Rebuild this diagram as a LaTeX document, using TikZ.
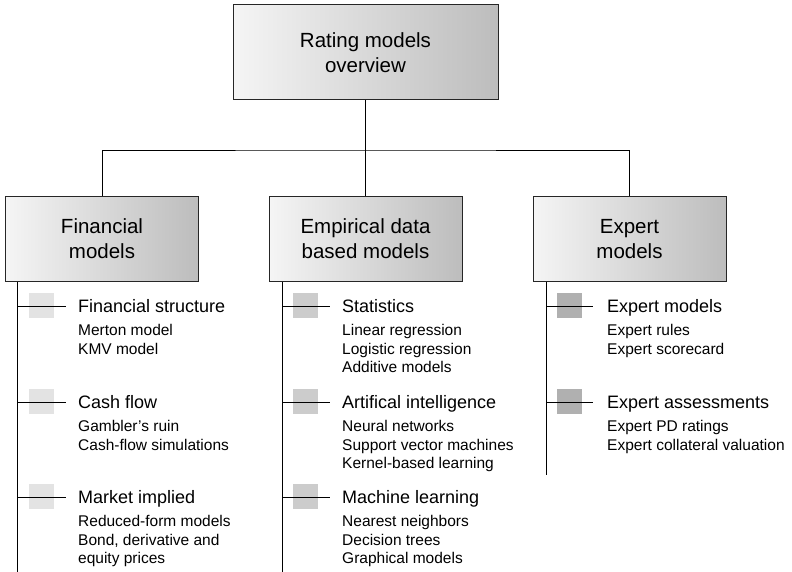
\documentclass[tikz,border=0pt]{standalone}
\usepackage{fontspec}
\setmainfont{Liberation Sans}
\usetikzlibrary{positioning}
\begin{document}
\begin{tikzpicture}[x=1pt, y=-1pt,
        box/.style={rectangle, draw=black!85, line width=1pt, left color=gray!8, right color=gray!52, minimum width=193pt, minimum height=84pt, align=center, font=\fontsize{20.5}{25}\selectfont},
        tag_fin/.style={rectangle, fill=gray!22, minimum size=25pt, inner sep=0pt},
        tag_emp/.style={tag_fin, fill=gray!40},
        tag_exp/.style={tag_fin, fill=gray!62},
        group/.style={anchor=base west, inner sep=0pt, font=\fontsize{18}{21}\selectfont},
        items/.style={inner sep=0pt, align=left, font=\fontsize{15.5}{18.7}\selectfont},
        link/.style={line width=0.8pt}
    ]
        \useasboundingbox (0,0) rectangle (792,572);

        % Top box and the three model families
        \node[box, minimum width=265pt, minimum height=95pt] (root) at (365.5,52.5) {Rating models\\overview};
        \node[box] (fin) at (102,239) {Financial\\models};
        \node[box] (emp) at (365.5,239) {Empirical data\\based models};
        \node[box] (exp) at (629.5,239) {Expert\\models};
        \coordinate (bus) at (365.5,150);
        \draw[link] (root) -- (emp);
        \draw[link] (fin.north) |- (bus) -| (exp.north);

        % Financial models
        \coordinate (fin_trunk) at (17,572);
        \draw[link] (fin.south -| fin_trunk) -- (fin_trunk);
        \node[tag_fin] (fin_sq1) at (41.5,305.5) {};
        \node[tag_fin] (fin_sq2) at (41.5,401.5) {};
        \node[tag_fin] (fin_sq3) at (41.5,496.5) {};
        \coordinate (fin_c1) at (66,306);
        \coordinate (fin_c2) at (66,402);
        \coordinate (fin_c3) at (66,497);
        \draw[link] (fin_c1 -| fin_trunk) -- (fin_c1);
        \draw[link] (fin_c2 -| fin_trunk) -- (fin_c2);
        \draw[link] (fin_c3 -| fin_trunk) -- (fin_c3);
        \node[group] (fin_g1) at (78,312) {Financial structure};
        \node[items, below right=12pt and 0pt of fin_g1.base west] (fin_i1) {Merton model\\KMV model};
        \node[group] (fin_g2) at (78,408) {Cash flow};
        \node[items, below right=12pt and 0pt of fin_g2.base west] (fin_i2) {Gambler's ruin\\Cash-flow simulations};
        \node[group] (fin_g3) at (78,503) {Market implied};
        \node[items, below right=12pt and 0pt of fin_g3.base west] (fin_i3) {Reduced-form models\\Bond, derivative and\\equity prices};

        % Empirical data based models
        \coordinate (emp_trunk) at (282,572);
        \draw[link] (emp.south -| emp_trunk) -- (emp_trunk);
        \node[tag_emp] (emp_sq1) at (305.5,305.5) {};
        \node[tag_emp] (emp_sq2) at (305.5,401.5) {};
        \node[tag_emp] (emp_sq3) at (305.5,496.5) {};
        \coordinate (emp_c1) at (330,306);
        \coordinate (emp_c2) at (330,402);
        \coordinate (emp_c3) at (330,497);
        \draw[link] (emp_c1 -| emp_trunk) -- (emp_c1);
        \draw[link] (emp_c2 -| emp_trunk) -- (emp_c2);
        \draw[link] (emp_c3 -| emp_trunk) -- (emp_c3);
        \node[group] (emp_g1) at (342,312) {Statistics};
        \node[items, below right=12pt and 0pt of emp_g1.base west] (emp_i1) {Linear regression\\Logistic regression\\Additive models};
        \node[group] (emp_g2) at (342,408) {Artifical intelligence};
        \node[items, below right=12pt and 0pt of emp_g2.base west] (emp_i2) {Neural networks\\Support vector machines\\Kernel-based learning};
        \node[group] (emp_g3) at (342,503) {Machine learning};
        \node[items, below right=12pt and 0pt of emp_g3.base west] (emp_i3) {Nearest neighbors\\Decision trees\\Graphical models};

        % Expert models
        \coordinate (exp_trunk) at (546,475);
        \draw[link] (exp.south -| exp_trunk) -- (exp_trunk);
        \node[tag_exp] (exp_sq1) at (569.5,305.5) {};
        \node[tag_exp] (exp_sq2) at (569.5,401.5) {};
        \coordinate (exp_c1) at (593,306);
        \coordinate (exp_c2) at (593,402);
        \draw[link] (exp_c1 -| exp_trunk) -- (exp_c1);
        \draw[link] (exp_c2 -| exp_trunk) -- (exp_c2);
        \node[group] (exp_g1) at (607,312) {Expert models};
        \node[items, below right=12pt and 0pt of exp_g1.base west] (exp_i1) {Expert rules\\Expert scorecard};
        \node[group] (exp_g2) at (607,408) {Expert assessments};
        \node[items, below right=12pt and 0pt of exp_g2.base west] (exp_i2) {Expert PD ratings\\Expert collateral valuation};

    \end{tikzpicture}
\end{document}
